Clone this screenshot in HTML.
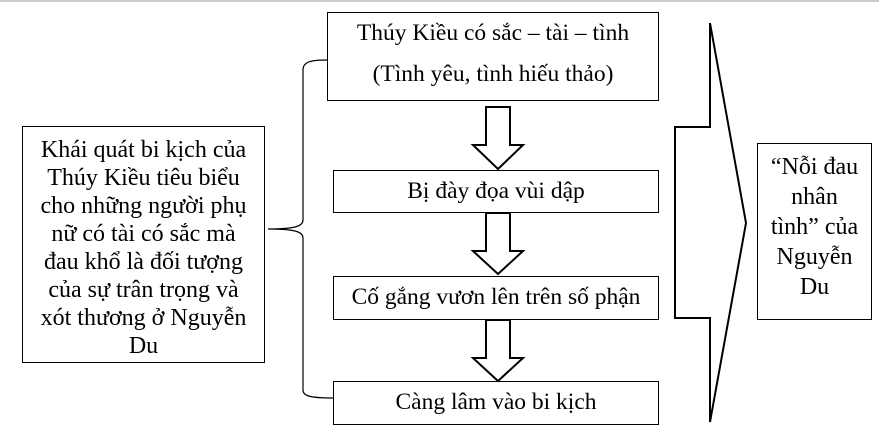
<!DOCTYPE html>
<html><head><meta charset="utf-8"><style>
body{margin:0;width:879px;height:444px;background:#fff;position:relative;overflow:hidden;font-family:"Liberation Serif",serif;color:#000}
.b{position:absolute;border:1.5px solid #000;box-sizing:border-box;text-align:center;font-size:23.5px;white-space:nowrap}
svg{position:absolute;left:0;top:0}
</style></head><body>
<svg width="879" height="444">
<line x1="0" y1="1" x2="879" y2="1" stroke="#ccc" stroke-width="2"/>
<g fill="#fff" stroke="#000" stroke-width="2">
<polygon points="486,107 510,107 510,145 523,145 498,169 473,145 486,145"/>
<polygon points="486,213 510,213 510,251 523,251 498,274 473,251 486,251"/>
<polygon points="486,320 510,320 510,358 523,358 498,381 473,358 486,358"/>
<polygon points="675,127 710,127 710,23 746,223 710,422 710,318 675,318"/>
</g>
<path d="M327,60 C310,60 303,62 303,70 L303,220 C303,226 296,229 268,229 C296,229 303,232 303,238 L303,390 C303,396 310,398 333,398" fill="none" stroke="#000" stroke-width="1.2"/>
</svg>
<div class="b" style="left:22px;top:126px;width:243px;height:237px;padding-top:9px;line-height:28px;font-size:24px">Khái quát bi kịch của<br>Thúy Kiều tiêu biểu<br>cho những người phụ<br>nữ có tài có sắc mà<br>đau khổ là đối tượng<br>của sự trân trọng và<br>xót thương ở Nguyễn<br>Du</div>
<div class="b" style="left:327px;top:12px;width:332px;height:89px;line-height:41px;padding-top:0">Thúy Kiều có sắc – tài – tình<br>(Tình yêu, tình hiếu thảo)</div>
<div class="b" style="left:333px;top:170px;width:326px;height:43px;line-height:40px">Bị đày đọa vùi dập</div>
<div class="b" style="left:333px;top:276px;width:326px;height:44px;line-height:41px">Cố gắng vươn lên trên số phận</div>
<div class="b" style="left:333px;top:381px;width:326px;height:44px;line-height:41px">Càng lâm vào bi kịch</div>
<div class="b" style="left:757px;top:143px;width:115px;height:177px;line-height:30px;padding-top:8px;font-size:24px">“Nỗi đau<br>nhân<br>tình” của<br>Nguyễn<br>Du</div>
</body></html>
